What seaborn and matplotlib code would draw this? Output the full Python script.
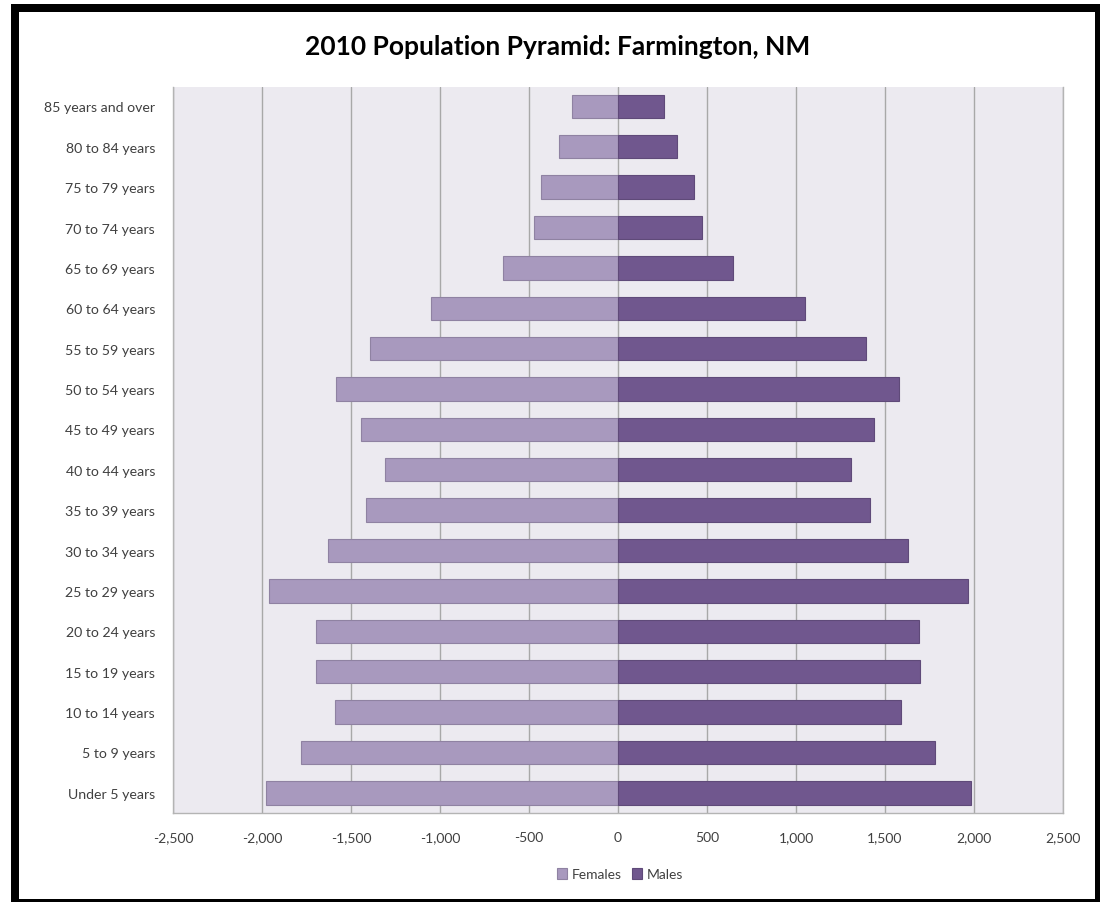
"""Population pyramid for Farmington, NM (2010 census)."""

import matplotlib
matplotlib.use("Agg")
import matplotlib.pyplot as plt
from matplotlib.patches import Rectangle
from matplotlib.ticker import FuncFormatter, MultipleLocator
import pandas as pd
import seaborn as sns

# Age groups, oldest at the top
age_groups = [
    "85 years and over", "80 to 84 years", "75 to 79 years", "70 to 74 years",
    "65 to 69 years", "60 to 64 years", "55 to 59 years", "50 to 54 years",
    "45 to 49 years", "40 to 44 years", "35 to 39 years", "30 to 34 years",
    "25 to 29 years", "20 to 24 years", "15 to 19 years", "10 to 14 years",
    "5 to 9 years", "Under 5 years",
]
# Females drawn to the left (negative values)
females = [-258, -333, -433, -472, -646, -1051, -1393, -1582, -1442, -1309,
           -1418, -1631, -1962, -1697, -1697, -1590, -1783, -1978]
males = [260, 331, 429, 474, 648, 1049, 1391, 1580, 1440, 1307,
         1414, 1631, 1964, 1691, 1695, 1588, 1783, 1981]

female_color = "#A899BE"
male_color = "#70578E"

df = pd.DataFrame({
    "age": age_groups * 2,
    "sex": ["Females"] * len(age_groups) + ["Males"] * len(age_groups),
    "population": females + males,
})

sns.set_style("white")
plt.rcParams["font.family"] = ["Lato", "DejaVu Sans"]

fig = plt.figure(figsize=(11.03, 9.04), dpi=100)
ax = fig.add_axes([173 / 1103, 1 - 814 / 904, 890 / 1103, 726 / 904])

sns.barplot(
    data=df, x="population", y="age", hue="sex", order=age_groups,
    hue_order=["Females", "Males"], palette=[female_color, male_color],
    dodge=False, width=0.58, orient="h", saturation=1, ax=ax, legend=True,
)

# darker outline around each bar
for bar in ax.patches:
    fc = bar.get_facecolor()
    bar.set_edgecolor((fc[0] * 0.85, fc[1] * 0.85, fc[2] * 0.85, 1))
    bar.set_linewidth(0.8)

ax.set_facecolor("#ECEAF0")
ax.set_xlim(-2500, 2500)
ax.set_ylim(17.5, -0.48)
ax.xaxis.set_major_locator(MultipleLocator(500))
ax.xaxis.set_major_formatter(FuncFormatter(lambda v, _: f"{int(v):,}"))
ax.grid(True, axis="x", color="#A8A8A8", linewidth=1)
ax.set_axisbelow(True)
ax.set_xlabel("")
ax.set_ylabel("")
ax.tick_params(axis="x", length=0, pad=13, labelsize=10, labelcolor="#404040")
ax.tick_params(axis="y", length=0, pad=13, labelsize=10.2, labelcolor="#404040")

for side in ["left", "right", "bottom"]:
    ax.spines[side].set_color("#B4B4B4")
    ax.spines[side].set_linewidth(1)
ax.spines["top"].set_visible(False)

ax.legend(
    loc="center", bbox_to_anchor=(620 / 1103, 1 - 875 / 904),
    bbox_transform=fig.transFigure, ncol=2, frameon=False, fontsize=10,
    handlelength=0.7, handleheight=0.9, handletextpad=0.3, columnspacing=0.8,
    labelcolor="#404040",
)

fig.text(558 / 1103, 1 - 47 / 904, "2010 Population Pyramid: Farmington, NM",
         ha="center", va="center", fontsize=19, fontweight="bold", color="#000000")


# black frame round the chart, heavier on the top and left
def frame(x0, y0, x1, y1):
    fig.patches.append(Rectangle(
        (x0 / 1103, 1 - y1 / 904), (x1 - x0) / 1103, (y1 - y0) / 904,
        transform=fig.transFigure, facecolor="black", edgecolor="none", zorder=10,
    ))


frame(11, 5, 1100, 13)
frame(11, 5, 19, 903)
frame(1095, 5, 1100, 903)
frame(11, 900, 1100, 903)

fig.savefig("out.png", dpi=100)
